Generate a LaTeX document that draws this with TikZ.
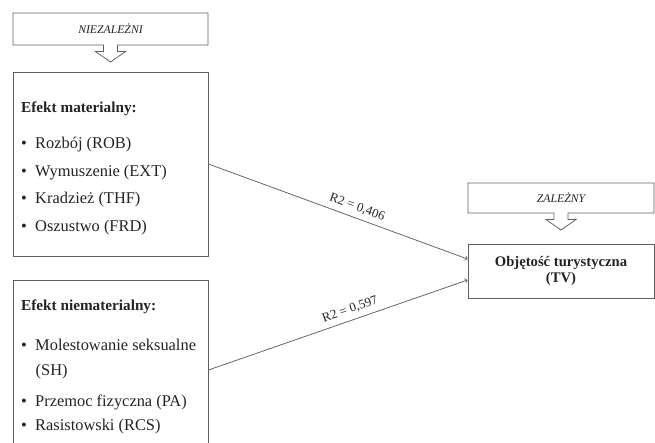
\documentclass[tikz,border=0pt]{standalone}
\usepackage{fontspec}
\setmainfont{Liberation Serif}
\usetikzlibrary{shapes.arrows}

\definecolor{ln}{RGB}{95,95,95}
\definecolor{tx}{RGB}{35,35,35}
\newcommand\itm{\makebox[0.42cm][l]{\textbullet}}

\begin{document}
\begin{tikzpicture}[x=0.03cm, y=-0.03cm,
        box/.style={draw=ln, line width=0.75pt, minimum width=5.85cm},
        hdr/.style={arrow box, draw=ln, line width=0.65pt, text=tx,
            arrow box arrows={south:0.5cm}, arrow box shaft width=0.42cm,
            arrow box head extend=0.24cm, arrow box tip angle=110,
            font=\fontsize{10}{12}\selectfont\itshape},
        head/.style={anchor=west, inner sep=0pt, text=tx, font=\fontsize{13}{15}\selectfont\bfseries},
        item/.style={anchor=west, inner sep=0pt, text=tx, font=\fontsize{14}{15}\selectfont},
        lbl/.style={pos=0.56, above=3pt, sloped, inner sep=1pt, text=tx, font=\fontsize{11}{13}\selectfont},
    ]

    \useasboundingbox (0,0) rectangle (655,442);
    \clip (0,0) rectangle (655,442);

    % left side
    \node[hdr, minimum width=5.85cm, minimum height=0.96cm] (nz) at (110.5,29) {NIEZALEŻNI};
    \node[box, minimum height=5.52cm] (mat) at (110.5,164) {};
    \node[head] (mh) at (21,109) {Efekt materialny:};
    \node[item] (m1) at (21,145) {\itm Rozbój (ROB)};
    \node[item] (m2) at (21,173) {\itm Wymuszenie (EXT)};
    \node[item] (m3) at (21,200) {\itm Kradzież (THF)};
    \node[item] (m4) at (21,228) {\itm Oszustwo (FRD)};

    \node[box, minimum height=5.4cm] (nmat) at (110.5,370) {};
    \node[head] (nh) at (21,307) {Efekt niematerialny:};
    \node[item] (n1) at (21,345) {\itm Molestowanie seksualne};
    \node[item] (n1b) at (35.5,372) {(SH)};
    \node[item] (n2) at (21,402) {\itm Przemoc fizyczna (PA)};
    \node[item] (n3) at (21,427) {\itm Rasistowski (RCS)};

    % right side
    \node[hdr, minimum width=5.58cm, minimum height=0.9cm] (zal) at (561,198) {ZALEŻNY};
    \node[box, minimum width=5.58cm, minimum height=1.62cm, align=center, text=tx,
        font=\fontsize{12.5}{13.5}\selectfont\bfseries] (tv) at (561,271) {Objętość turystyczna\\(TV)};

    \draw[->, ln, line width=0.65pt] (mat.east) -- ([yshift=0.36cm]tv.west)
        node[lbl] (r1) {R2 = 0,406};
    \draw[->, ln, line width=0.65pt] (nmat.east) -- ([yshift=-0.27cm]tv.west)
        node[lbl] (r2) {R2 = 0,597};
\end{tikzpicture}
\end{document}
